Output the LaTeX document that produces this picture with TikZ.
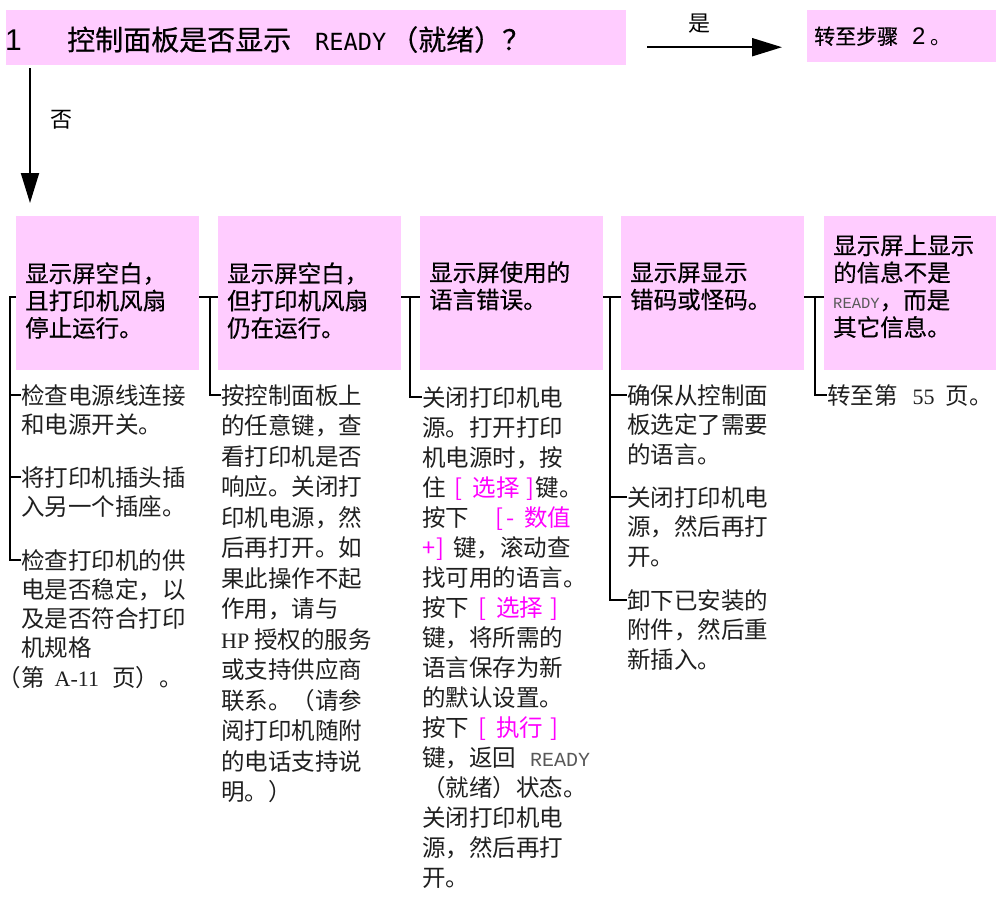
\documentclass[tikz,border=0pt]{standalone}
\usepackage{fontspec}
\setmainfont{Noto Sans CJK SC}
\newfontfamily\hdfam[FakeBold=0.5]{Noto Sans CJK SC}
\newfontfamily\serifl{Liberation Serif}
\newfontfamily\lmono{Liberation Mono}
\newfontfamily\dmono{DejaVu Sans Mono}
\newfontfamily\lsans{Liberation Sans}
\usetikzlibrary{arrows.meta,calc}
\definecolor{boxpink}{HTML}{FFCCFF}
\definecolor{mg}{HTML}{FF00FF}
\definecolor{bodyc}{gray}{0.12}
\definecolor{lcd}{gray}{0.35}
\newcommand{\lat}[1]{{\serifl\fontsize{22}{22}\selectfont #1}}
\newcommand{\rdy}[2]{{\lmono\fontsize{#1}{#1}\selectfont\color{lcd}#2}}
\newcommand{\kbd}[1]{{\color{mg}\hspace{9pt}[\hspace{10pt}#1\hspace{7pt}]}}
\newcommand{\hdf}{\hdfam\fontsize{23.5}{27.3}\selectfont}
\newcommand{\bdf}[1]{\fontsize{23.5}{#1}\selectfont}
\begin{document}
\begin{tikzpicture}[x=1pt,y=-1pt,
  hbox/.style={fill=boxpink, anchor=north west, inner xsep=9pt, inner ysep=0pt},
  btxt/.style={anchor=base west, inner sep=0pt, text=bodyc},
  brk/.style={line width=2pt},
  arr/.style={line width=2pt, -{Triangle[length=30pt,width=18pt]}},
  lbl/.style={inner sep=0pt, font=\fontsize{22}{22}\selectfont}]
\useasboundingbox (0,0) rectangle (996,898);

% top row
\node[anchor=north west, inner sep=0pt, text height=40pt, text depth=15pt, fill=boxpink] (title) at (6,10)
 {\makebox[620pt][l]{\makebox[61pt][l]{\hspace*{-1pt}\lsans\fontsize{30}{30}\selectfont 1}{\hdfam\fontsize{28}{28}\selectfont 控制面板是否显示}\hspace{24pt}{\dmono\fontsize{23.6}{24}\selectfont READY}\hspace{4pt}{\hdfam\fontsize{28}{28}\selectfont （就绪）？}}};
\node[anchor=north west, inner sep=0pt, text height=34pt, text depth=18pt, fill=boxpink] (step2) at (807,10)
 {\makebox[189pt][l]{\hspace*{7pt}{\hdfam\fontsize{21}{21}\selectfont 转至步骤}\hspace{14pt}{\lsans\fontsize{24}{24}\selectfont 2}\hspace{5pt}{\fontsize{21}{21}\selectfont 。}}};

% header boxes
\node[hbox, text height=66pt, text depth=88pt] (h1) at (16,216)
 {\parbox[t]{165pt}{\raggedright\hdf 显示屏空白，\\且打印机风扇\\停止运行。}};
\node[hbox, text height=66pt, text depth=88pt] (h2) at (218,216)
 {\parbox[t]{165pt}{\raggedright\hdf 显示屏空白，\\但打印机风扇\\仍在运行。}};
\node[hbox, text height=65pt, text depth=89pt] (h3) at (420,216)
 {\parbox[t]{165pt}{\raggedright\hdf 显示屏使用的\\语言错误。}};
\node[hbox, text height=65pt, text depth=89pt] (h4) at (621,216)
 {\parbox[t]{165pt}{\raggedright\hdf 显示屏显示\\错码或怪码。}};
\node[hbox, text height=38pt, text depth=116pt] (h5) at (824,216)
 {\parbox[t]{154pt}{\raggedright\hdf 显示屏上显示\\的信息不是\\\rdy{15.5}{READY}，而是\\其它信息。}};

% yes / no arrows
\draw[arr] ([shift={(21,9.5)}]title.east) -- ([shift={(-25,11)}]step2.west)
  node[lbl, pos=0.385, yshift=24pt] (yes) {是};
\draw[arr] ([shift={(24,3)}]title.south west) -- ([shift={(14,-13)}]h1.north west)
  node[lbl, pos=0.385, anchor=west, xshift=19pt] (no) {否};

% body texts
\node[btxt] (t1a) at (21,404) {\parbox[t]{200pt}{\raggedright\bdf{29.5}检查电源线连接\\和电源开关。}};
\node[btxt] (t1b) at (21,486) {\parbox[t]{200pt}{\raggedright\bdf{29.5}将打印机插头插\\入另一个插座。}};
\node[btxt] (t1c) at (21,569) {\parbox[t]{200pt}{\raggedright\bdf{29.3}检查打印机的供\\电是否稳定，以\\及是否符合打印\\机规格\\\leavevmode\llap{（}第\hspace{10pt}\lat{A-11}\hspace{13pt}页）。}};
\node[btxt] (t2) at (221,404) {\parbox[t]{200pt}{\raggedright\bdf{30.5}按控制面板上\\的任意键，查\\看打印机是否\\响应。关闭打\\印机电源，然\\后再打开。如\\果此操作不起\\作用，请与\\\lat{HP}\hspace{5pt}授权的服务\\或支持供应商\\联系。（请参\\阅打印机随附\\的电话支持说\\明。）}};
\node[btxt] (t3) at (422,406) {\parbox[t]{200pt}{\raggedright\bdf{30}关闭打印机电\\源。打开打印\\机电源时，按\\住\kbd{选择}\hspace{1pt}键。\\按下{\color{mg}\hspace{26pt}[\hspace{3pt}-\hspace{10pt}数值}\\{\color{mg}+\hspace{1pt}]}\hspace{9pt}键，滚动查\\找可用的语言。\\按下\kbd{选择}\\键，将所需的\\语言保存为新\\的默认设置。\\按下\kbd{执行}\\键，返回\hspace{14pt}\rdy{20}{READY}\\（就绪）状态。\\关闭打印机电\\源，然后再打\\开。}};
\node[btxt] (t4a) at (627,404) {\parbox[t]{200pt}{\raggedright\bdf{29.5}确保从控制面\\板选定了需要\\的语言。}};
\node[btxt] (t4b) at (627,506) {\parbox[t]{200pt}{\raggedright\bdf{29.5}关闭打印机电\\源，然后再打\\开。}};
\node[btxt] (t4c) at (627,609) {\parbox[t]{200pt}{\raggedright\bdf{29.5}卸下已安装的\\附件，然后重\\新插入。}};
\node[btxt] (t5) at (827,404) {\parbox[t]{200pt}{\raggedright\bdf{30}转至第\hspace{15pt}\lat{55}\hspace{11pt}页。}};

% tick points
\foreach \t in {t1a,t1b,t1c,t2,t3,t4a,t4b,t4c,t5}
  \coordinate (p\t) at ([yshift=9pt]\t.base west);

% brackets
\coordinate (k1) at ([shift={(-6,4)}]h1.west);
\draw[brk] ([yshift=-4pt]h1.west) -- (k1) |- (pt1c);
\draw[brk] (k1 |- pt1a) -- (pt1a);
\draw[brk] (k1 |- pt1b) -- (pt1b);

\coordinate (k2) at ([shift={(-8,4)}]h2.west);
\draw[brk] ([yshift=-4pt]h1.east) -- ([yshift=-4pt]h2.west);
\draw[brk] (k2) |- (pt2);

\coordinate (k3) at ([shift={(-10,4)}]h3.west);
\draw[brk] ([yshift=-4pt]h2.east) -- ([yshift=-4pt]h3.west);
\draw[brk] (k3) |- (pt3);

\coordinate (k4) at ([shift={(-11,4)}]h4.west);
\draw[brk] ([yshift=-4pt]h3.east) -- ([yshift=-4pt]h4.west);
\draw[brk] (k4) |- (pt4c);
\draw[brk] (k4 |- pt4a) -- (pt4a);
\draw[brk] (k4 |- pt4b) -- (pt4b);

\coordinate (k5) at ([shift={(-9,4)}]h5.west);
\draw[brk] ([yshift=-4pt]h4.east) -- ([yshift=-4pt]h5.west);
\draw[brk] (k5) |- (pt5);
\end{tikzpicture}
\end{document}
